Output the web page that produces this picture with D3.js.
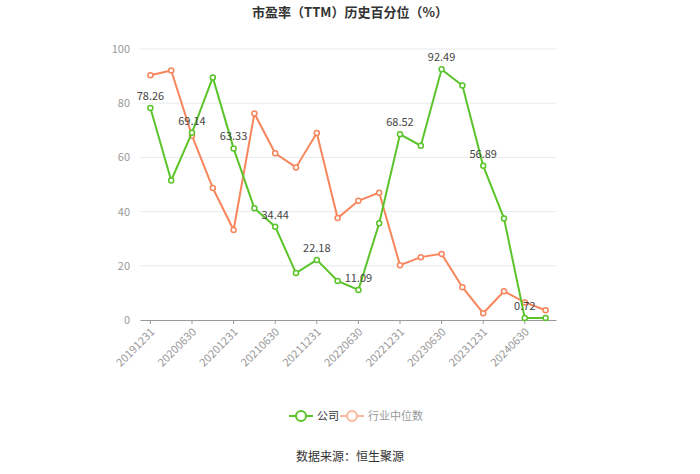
<!DOCTYPE html>
<html>
<head>
<meta charset="utf-8">
<script src="https://cdn.jsdelivr.net/npm/d3@7"></script>
<style>
  body { margin: 0; background: #fff; }
  #chart { width: 700px; height: 474px; }
  text { font-family: "Microsoft YaHei", "Noto Sans CJK SC", sans-serif; }
</style>
</head>
<body>
<div id="chart"></div>
<script>
// Quarter-end dates
const dates = ["20191231","20200331","20200630","20200930","20201231","20210331","20210630","20210930",
  "20211231","20220331","20220630","20220930","20221231","20230331","20230630","20230930",
  "20231231","20240331","20240630","20240930"];
const company = [78.26, 51.5, 69.14, 89.5, 63.33, 41.2, 34.44, 17.3, 22.18, 14.4, 11.09, 35.7,
  68.52, 64.3, 92.49, 86.5, 56.89, 37.5, 0.72, 0.75];
const industry = [90.3, 92.1, 68.0, 48.7, 33.2, 76.2, 61.5, 56.3, 69.0, 37.6, 44.0, 47.0,
  20.2, 23.2, 24.4, 12.1, 2.5, 10.6, 6.5, 3.6];
const yTicks = [0, 20, 40, 60, 80, 100];

const greenColor = "#5bc42a";
const orangeColor = "#f7865c";

const svg = d3.select("#chart").append("svg")
    .attr("width", 700)
    .attr("height", 474);

const margin = {top: 49, left: 140, right: 144, bottom: 154};
const width = 700 - margin.left - margin.right;
const height = 474 - margin.top - margin.bottom;

const g = svg.append("g")
    .attr("transform", `translate(${margin.left},${margin.top})`);

// Scales
const x = d3.scaleBand().domain(dates).range([0, width]);
const cx = d => x(d) + x.bandwidth() / 2;
const y = d3.scaleLinear().domain([0, 100]).range([height, 0]);

// Title
svg.append("text")
    .attr("x", 350)
    .attr("y", 17)
    .attr("text-anchor", "middle")
    .style("font-size", "13px")
    .style("font-weight", "bold")
    .attr("fill", "#333")
    .text("市盈率（TTM）历史百分位（%）");

// Grid lines
g.selectAll(".grid")
    .data(yTicks.filter(d => d > 0))
    .enter().append("line")
    .attr("x1", 0).attr("x2", width)
    .attr("y1", d => y(d)).attr("y2", d => y(d))
    .attr("stroke", "#e6e9ef");

// Y axis
const yAxis = g.append("g")
    .call(d3.axisLeft(y).tickValues(yTicks).tickSize(0).tickPadding(10));
yAxis.select(".domain").remove();
yAxis.selectAll("text").attr("fill", "#999").style("font-size", "11px");

// X axis
const labelDates = dates.filter((d, i) => i % 2 === 0);
const xAxis = g.append("g")
    .attr("transform", `translate(0,${height})`)
    .call(d3.axisBottom(x).tickValues(labelDates).tickSize(4).tickSizeOuter(0));
xAxis.select(".domain").attr("stroke", "#999");
xAxis.selectAll(".tick line").attr("stroke", "#999");
xAxis.selectAll("text")
    .attr("fill", "#999")
    .style("font-size", "11px")
    .attr("text-anchor", "end")
    .attr("dx", "-0.5em")
    .attr("dy", "0.5em")
    .attr("transform", "rotate(-45)");

// Lines
const line = d3.line()
    .x((d, i) => cx(dates[i]))
    .y(d => y(d));

function drawSeries(values, color) {
    g.append("path")
        .datum(values)
        .attr("fill", "none")
        .attr("stroke", color)
        .attr("stroke-width", 2)
        .attr("d", line);
    g.selectAll(null)
        .data(values)
        .enter().append("circle")
        .attr("cx", (d, i) => cx(dates[i]))
        .attr("cy", d => y(d))
        .attr("r", 2.5)
        .attr("fill", "#fff")
        .attr("stroke", color)
        .attr("stroke-width", 1.5);
}

drawSeries(industry, orangeColor);
drawSeries(company, greenColor);

// Value labels on company series
g.selectAll(".label")
    .data(company.map((v, i) => ({v, i})).filter(d => d.i % 2 === 0))
    .enter().append("text")
    .attr("x", d => cx(dates[d.i]))
    .attr("y", d => y(d.v) - 8)
    .attr("text-anchor", "middle")
    .style("font-size", "11px")
    .attr("fill", "#444")
    .text(d => d.v.toFixed(2));

// Legend
const legendItems = [
    {name: "公司", color: greenColor, text: "#333", x: 289},
    {name: "行业中位数", color: "#f9b89c", text: "#999", x: 340}
];
const legend = svg.append("g").attr("transform", "translate(0,416)");
legendItems.forEach(d => {
    legend.append("line")
        .attr("x1", d.x).attr("x2", d.x + 24)
        .attr("y1", 0).attr("y2", 0)
        .attr("stroke", d.color)
        .attr("stroke-width", 2);
    legend.append("circle")
        .attr("cx", d.x + 12).attr("cy", 0)
        .attr("r", 5)
        .attr("fill", "#fff")
        .attr("stroke", d.color)
        .attr("stroke-width", 2);
    legend.append("text")
        .attr("x", d.x + 28)
        .attr("y", 4)
        .style("font-size", "11px")
        .attr("fill", d.text)
        .text(d.name);
});

// Source
svg.append("text")
    .attr("x", 350)
    .attr("y", 461)
    .attr("text-anchor", "middle")
    .style("font-size", "12px")
    .attr("fill", "#333")
    .text("数据来源：恒生聚源");
</script>
</body>
</html>
